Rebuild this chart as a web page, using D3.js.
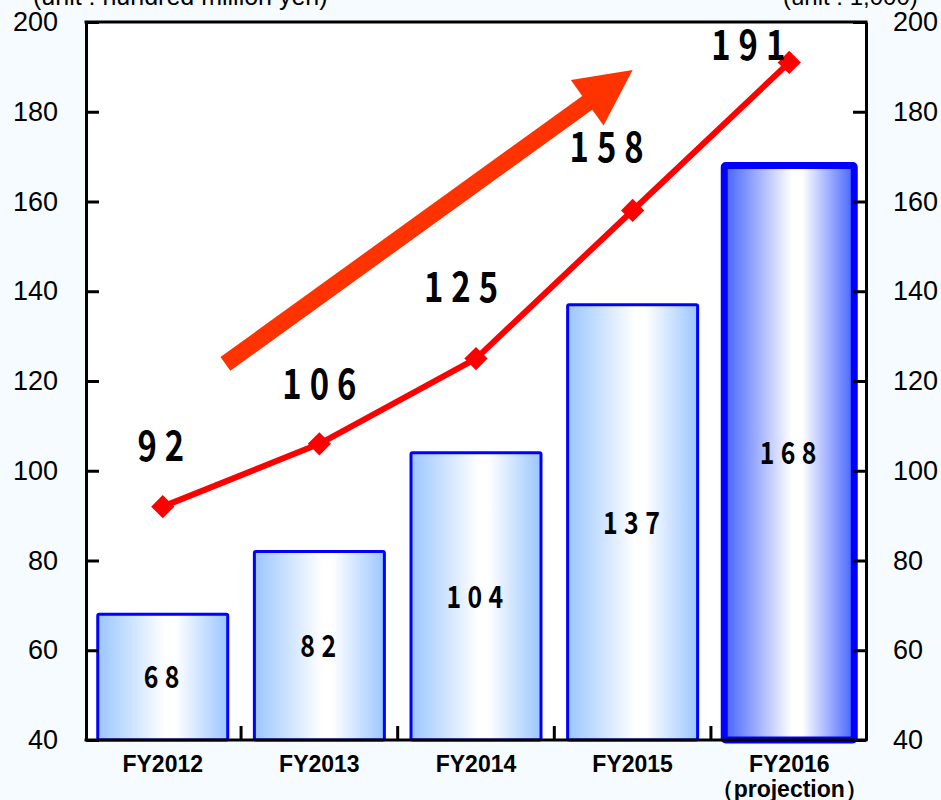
<!DOCTYPE html>
<html>
<head>
<meta charset="utf-8">
<script src="https://cdn.jsdelivr.net/npm/d3@7"></script>
<style>
  html, body { margin: 0; padding: 0; background: #f6fbff; }
  svg { display: block; }
</style>
</head>
<body>
<svg id="chart" width="941" height="800"></svg>
<script>
// Fiscal years and the two series (sales bars, line on the same axis)
const categories = ["FY2012", "FY2013", "FY2014", "FY2015", "FY2016"];
const subLabels = ["", "", "", "", "（projection）"];
const barValues = [68, 82, 104, 137, 168];
const lineValues = [92, 106, 125, 158, 191];
const projected = [false, false, false, false, true];
const yTicks = [40, 60, 80, 100, 120, 140, 160, 180, 200];

// Line label nudges (px) so the numbers sit clear of the line
const labelNudgeX = [-2, 0, -15, -26, -41];
const labelNudgeY = [-60, -60, -71, -63, -17];

const svg = d3.select("#chart");
const margin = { left: 86, right: 75, top: 22, bottom: 60 };
const W = 941, H = 800;
const x0 = margin.left, x1 = W - margin.right, y0 = margin.top, y1 = H - margin.bottom;

const x = d3.scaleBand().domain(categories).range([x0, x1])
  .paddingInner(0.17).paddingOuter(0.075);
const y = d3.scaleLinear().domain([40, 200]).range([y1, y0]);
// continuous position across categories (0 = first band centre)
const xi = d3.scaleLinear().domain([0, categories.length - 1])
  .range([x(categories[0]) + x.bandwidth() / 2, x(categories[categories.length - 1]) + x.bandwidth() / 2]);
const cx = (d) => x(d) + x.bandwidth() / 2;

// Gradients
const defs = svg.append("defs");
function grad(id, edge) {
  const g = defs.append("linearGradient").attr("id", id)
    .attr("x1", "0%").attr("x2", "100%").attr("y1", "0%").attr("y2", "0%");
  g.append("stop").attr("offset", "0%").attr("stop-color", edge);
  g.append("stop").attr("offset", "52%").attr("stop-color", "#ffffff");
  g.append("stop").attr("offset", "60%").attr("stop-color", "#ffffff");
  g.append("stop").attr("offset", "100%").attr("stop-color", edge);
}
grad("barGrad", "#9ac6ff");
grad("projGrad", "#4362ff");

// Plot area
svg.append("rect").attr("x", x0).attr("y", y0).attr("width", x1 - x0).attr("height", y1 - y0)
  .attr("fill", "#ffffff");

// Unit captions (partly above the page edge)
svg.append("text").attr("x", 33).attr("y", 5)
  .attr("font-family", "Liberation Sans, Arial, sans-serif").attr("font-size", 25)
  .attr("fill", "#000").text("(unit : hundred million yen)");
svg.append("text").attr("x", 783).attr("y", 5)
  .attr("font-family", "Liberation Sans, Arial, sans-serif").attr("font-size", 24)
  .attr("fill", "#000").text("(unit : 1,000)");

// Bars
const bars = svg.append("g");
bars.selectAll("rect").data(categories).join("rect")
  .attr("x", (d) => x(d))
  .attr("width", x.bandwidth())
  .attr("y", (d, i) => y(barValues[i]))
  .attr("height", (d, i) => y1 - y(barValues[i]))
  .attr("rx", 1.5)
  .attr("fill", (d, i) => projected[i] ? "url(#projGrad)" : "url(#barGrad)")
  .attr("stroke", "#0000ff")
  .attr("stroke-width", (d, i) => projected[i] ? 7 : 3);

// Bar value labels
const numFont = "'Noto Sans CJK JP', 'Noto Sans', sans-serif";
bars.selectAll("text").data(categories).join("text")
  .attr("transform", (d, i) => `translate(${cx(d) + 2},${(y(barValues[i]) + y1) / 2}) scale(0.8,1)`)
  .attr("text-anchor", "middle").attr("dy", "0.36em")
  .attr("font-family", numFont).attr("font-weight", 700).attr("font-size", 31)
  .attr("letter-spacing", 8)
  .attr("fill", "#000")
  .text((d, i) => barValues[i]);

// Frame and axes
const axisFont = "Liberation Sans, Arial, sans-serif";
const left = svg.append("g").attr("transform", `translate(${x0},0)`)
  .call(d3.axisLeft(y).tickValues(yTicks).tickSize(-13).tickSizeOuter(0).tickPadding(28));
const right = svg.append("g").attr("transform", `translate(${x1},0)`)
  .call(d3.axisRight(y).tickValues(yTicks).tickSize(-13).tickSizeOuter(0).tickPadding(27));
[left, right].forEach((g) => {
  g.select(".domain").attr("stroke", "#000").attr("stroke-width", 3);
  g.selectAll(".tick line").attr("stroke", "#000").attr("stroke-width", 3);
  g.selectAll(".tick text").attr("font-family", axisFont).attr("font-size", 27).attr("fill", "#000");
});
// top and bottom frame lines
svg.append("line").attr("x1", x0 - 1.5).attr("x2", x1 + 1.5).attr("y1", y0).attr("y2", y0)
  .attr("stroke", "#000").attr("stroke-width", 3);
svg.append("line").attr("x1", x0 - 1.5).attr("x2", x1 + 1.5).attr("y1", y1).attr("y2", y1)
  .attr("stroke", "#000").attr("stroke-width", 3);
// category separators on the base line
const step = x.step();
svg.append("g").selectAll("line").data(categories.slice(1)).join("line")
  .attr("x1", (d) => x(d) - step * x.paddingInner() / 2)
  .attr("x2", (d) => x(d) - step * x.paddingInner() / 2)
  .attr("y1", y1).attr("y2", y1 - 14)
  .attr("stroke", "#000").attr("stroke-width", 3);

// Category labels
const xl = svg.append("g").attr("font-family", axisFont).attr("font-weight", 700)
  .attr("font-size", 23).attr("fill", "#000").attr("text-anchor", "middle");
xl.selectAll("text.c").data(categories).join("text").attr("class", "c")
  .attr("x", (d) => cx(d)).attr("y", 772).text((d) => d);
xl.selectAll("text.s").data(categories).join("text").attr("class", "s")
  .attr("x", (d) => cx(d)).attr("y", 797).text((d, i) => subLabels[i]);

// Trend arrow (decoration), laid out on the chart scales
const tail = [xi(0.4), y(123.8)];
const tip = [xi(3.0), y(189.3)];
{
  const dx = tip[0] - tail[0], dy = tip[1] - tail[1];
  const len = Math.hypot(dx, dy);
  const ux = dx / len, uy = dy / len, nx = -uy, ny = ux;
  const headLen = 56, headW = 28, shaftW = 8.5;
  const bx = tip[0] - ux * headLen, by = tip[1] - uy * headLen;
  const pts = [
    [tail[0] + nx * shaftW, tail[1] + ny * shaftW],
    [bx + nx * shaftW, by + ny * shaftW],
    [bx + nx * headW, by + ny * headW],
    tip,
    [bx - nx * headW, by - ny * headW],
    [bx - nx * shaftW, by - ny * shaftW],
    [tail[0] - nx * shaftW, tail[1] - ny * shaftW]
  ];
  svg.append("path").attr("d", d3.line()(pts) + "Z").attr("fill", "#ff3300");
}

// Line series
const line = d3.line().x((d, i) => cx(categories[i])).y((d) => y(d));
svg.append("path").datum(lineValues).attr("d", line)
  .attr("fill", "none").attr("stroke", "#ff0000").attr("stroke-width", 6)
  .attr("stroke-linejoin", "round");
svg.append("g").selectAll("path").data(lineValues).join("path")
  .attr("d", d3.symbol().type(d3.symbolSquare).size(270))
  .attr("transform", (d, i) => `translate(${cx(categories[i])},${y(d)}) rotate(45)`)
  .attr("fill", "#ff0000");

// Line value labels
svg.append("g").selectAll("text").data(lineValues).join("text")
  .attr("transform", (d, i) => `translate(${cx(categories[i]) + labelNudgeX[i] + 4},${y(d) + labelNudgeY[i]}) scale(0.8,1)`)
  .attr("text-anchor", "middle").attr("dy", "0.36em")
  .attr("font-family", numFont).attr("font-weight", 700).attr("font-size", 41)
  .attr("letter-spacing", 10)
  .attr("fill", "#000")
  .text((d) => d);
</script>
</body>
</html>
